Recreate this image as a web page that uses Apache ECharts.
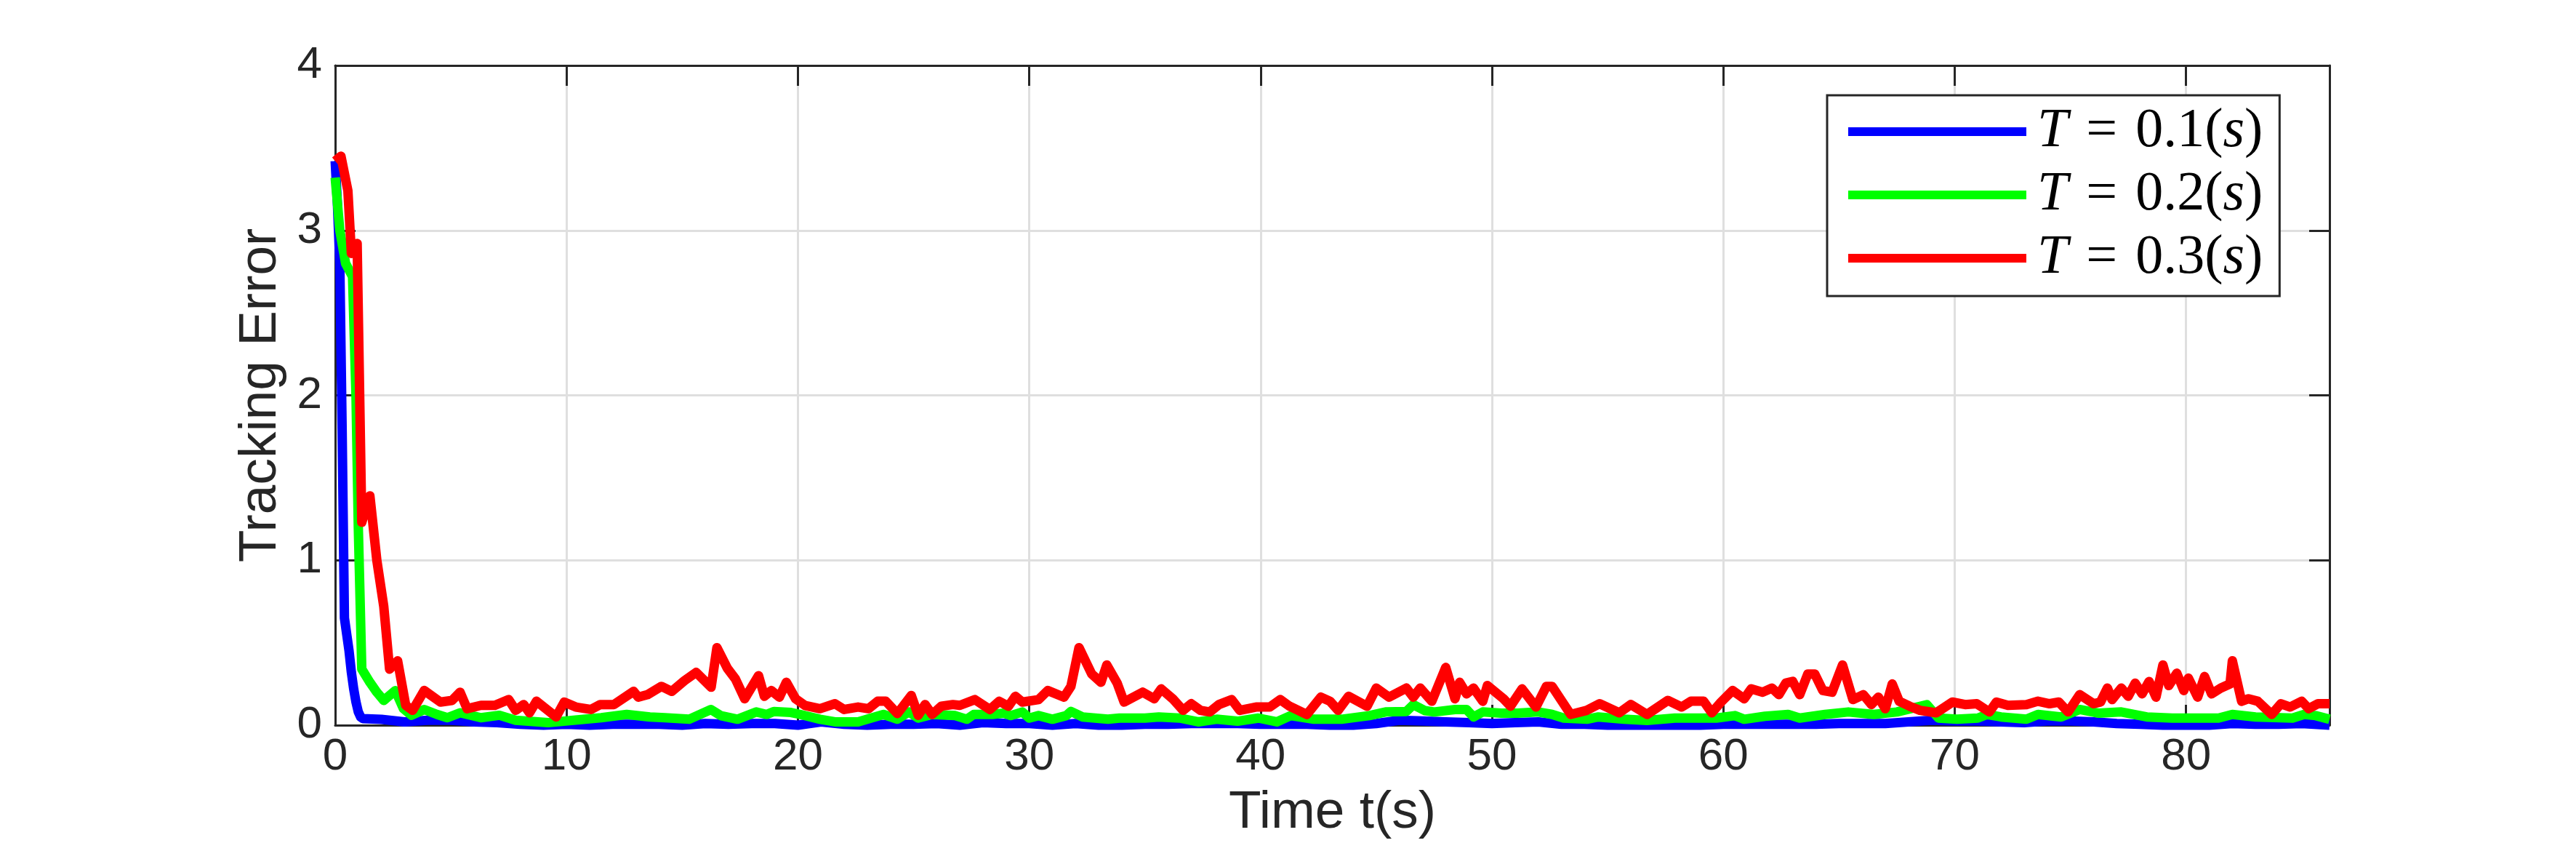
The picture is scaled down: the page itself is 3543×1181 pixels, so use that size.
<!DOCTYPE html>
<html>
<head>
<meta charset="utf-8">
<script src="https://cdn.jsdelivr.net/npm/echarts@6/dist/echarts.min.js"></script>
<style>
  html, body { margin: 0; padding: 0; background: #fff; }
  #chart { width: 3543px; height: 1181px; }
</style>
</head>
<body>
<div id="chart"></div>
<script>
// sampling periods shown in the legend
var periods = ['0.1', '0.2', '0.3']

// [time (s), tracking error]
var blueData = [
  [0, 3.42], [0.1, 3.15], [0.2, 2.8], [0.3, 1.8], [0.4, 0.65], [0.5, 0.55], [0.6, 0.45],
  [0.7, 0.32], [0.8, 0.22], [0.9, 0.14], [1.0, 0.08], [1.1, 0.05], [1.2, 0.04], [2, 0.035],
  [3, 0.02], [4, 0.03], [5, 0.03], [6, 0.02], [7, 0.015], [8, 0.005], [9, 0], [10, 0.005],
  [11, 0], [12, 0.005], [13, 0.005], [14, 0.005], [15, 0], [16, 0.01], [17, 0.005], [18, 0.01],
  [19, 0.01], [20, 0], [21, 0.02], [22, 0.005], [23, 0], [24, 0.005], [25, 0.005], [26, 0.01],
  [27, 0], [28, 0.015], [29, 0.01], [30, 0.01], [31, 0], [32, 0.01], [33, 0], [34, 0],
  [35, 0.005], [36, 0.005], [37, 0.01], [38, 0.01], [39, 0.01], [40, 0.005], [41, 0.005],
  [42, 0.005], [43, 0], [44, 0], [45, 0.01], [46, 0.03], [47, 0.025], [48, 0.02], [49, 0.015],
  [50, 0.01], [51, 0.015], [52, 0.02], [53, 0.005], [54, 0.005], [55, 0], [56, 0], [57, 0],
  [58, 0], [59, 0], [60, 0.005], [61, 0.005], [62, 0.005], [63, 0.005], [64, 0.005], [65, 0.01],
  [66, 0.01], [67, 0.01], [68, 0.02], [69, 0.03], [70, 0.025], [71, 0.025], [72, 0.02],
  [73, 0.015], [74, 0.025], [75, 0.025], [76, 0.02], [77, 0.01], [78, 0.005], [79, 0], [80, 0],
  [81, 0], [82, 0.01], [83, 0.005], [84, 0.005], [85, 0.01], [86.2, 0]
]

var greenData = [
  [0, 3.32], [0.2, 3.0], [0.45, 2.8], [0.75, 2.72], [0.9, 2.0], [1.0, 1.2], [1.15, 0.34],
  [1.5, 0.26], [1.8, 0.2], [2.1, 0.15], [2.6, 0.21], [2.95, 0.1], [3.3, 0.06], [3.85, 0.095],
  [4.4, 0.065], [4.85, 0.045], [5.4, 0.075], [6.3, 0.045], [7.1, 0.06], [7.8, 0.03], [9.2, 0.015],
  [10.3, 0.03], [11.5, 0.045], [12.6, 0.065], [13.6, 0.05], [14.25, 0.045], [15.3, 0.036],
  [16.24, 0.095], [16.66, 0.058], [17.39, 0.036], [18.2, 0.08], [18.65, 0.065], [18.96, 0.083],
  [19.7, 0.077], [20.1, 0.065], [20.95, 0.036], [21.6, 0.02], [22.6, 0.02], [23.7, 0.065],
  [24.3, 0.036], [24.8, 0.08], [25.2, 0.043], [25.8, 0.065], [26.8, 0.058], [27.3, 0.036],
  [27.6, 0.065], [28.4, 0.065], [28.9, 0.073], [29.2, 0.058], [29.7, 0.08], [30.0, 0.043],
  [30.4, 0.058], [31.0, 0.036], [31.6, 0.058], [31.8, 0.083], [32.3, 0.05], [33.4, 0.036],
  [33.9, 0.043], [35.0, 0.043], [35.6, 0.05], [36.5, 0.043], [37.3, 0.02], [38.1, 0.036],
  [39.0, 0.024], [39.9, 0.043], [40.7, 0.02], [41.3, 0.058], [42.3, 0.036], [43.5, 0.036],
  [44.7, 0.058], [45.4, 0.08], [46.3, 0.083], [46.6, 0.124], [47.1, 0.088], [47.5, 0.08],
  [48.4, 0.095], [48.9, 0.095], [49.2, 0.05], [49.6, 0.08], [50.4, 0.073], [51.1, 0.073],
  [52.0, 0.08], [52.6, 0.065], [53.1, 0.043], [54.1, 0.036], [54.6, 0.05], [55.7, 0.036],
  [56.7, 0.029], [57.9, 0.043], [59.7, 0.043], [60.5, 0.058], [60.9, 0.036], [61.8, 0.054],
  [62.8, 0.065], [63.3, 0.043], [64.4, 0.065], [65.4, 0.08], [66.5, 0.065], [67.5, 0.08],
  [68.8, 0.124], [69.3, 0.043], [70.1, 0.036], [71.0, 0.043], [71.4, 0.065], [72.0, 0.05],
  [73.1, 0.036], [73.6, 0.065], [74.6, 0.05], [75.4, 0.095], [76.2, 0.073], [77.2, 0.08],
  [78.3, 0.05], [79.4, 0.043], [81.4, 0.043], [82.0, 0.065], [83.0, 0.05], [84.6, 0.043],
  [85.1, 0.065], [85.6, 0.058], [86.2, 0.036]
]

var redData = [
  [0, 3.42], [0.25, 3.45], [0.55, 3.24], [0.7, 2.86], [0.95, 2.92], [1.15, 1.23], [1.5, 1.39],
  [1.8, 1.0], [2.1, 0.72], [2.35, 0.34], [2.7, 0.39], [3.05, 0.12], [3.35, 0.09], [3.85, 0.21],
  [4.55, 0.14], [5.05, 0.15], [5.4, 0.2], [5.7, 0.1], [6.3, 0.12], [6.9, 0.12], [7.5, 0.155],
  [7.8, 0.09], [8.15, 0.125], [8.4, 0.075], [8.7, 0.145], [9.55, 0.05], [9.9, 0.14], [10.4, 0.11],
  [11.05, 0.095], [11.45, 0.125], [12.05, 0.125], [12.9, 0.205], [13.1, 0.17], [13.5, 0.185],
  [14.1, 0.235], [14.55, 0.205], [15.1, 0.27], [15.6, 0.32], [16.25, 0.23], [16.5, 0.47],
  [16.95, 0.345], [17.3, 0.28], [17.7, 0.16], [18.3, 0.3], [18.55, 0.175], [18.85, 0.21],
  [19.2, 0.17], [19.5, 0.26], [19.9, 0.16], [20.3, 0.12], [20.95, 0.1], [21.6, 0.13], [22.0, 0.095],
  [22.6, 0.11], [23.05, 0.1], [23.45, 0.145], [23.8, 0.145], [24.3, 0.07], [24.9, 0.18],
  [25.2, 0.06], [25.5, 0.125], [25.8, 0.065], [26.2, 0.115], [26.7, 0.125], [27.0, 0.12],
  [27.65, 0.155], [28.3, 0.095], [28.7, 0.145], [29.1, 0.115], [29.4, 0.175], [29.7, 0.14],
  [30.4, 0.155], [30.8, 0.21], [31.5, 0.17], [31.8, 0.235], [32.15, 0.47], [32.7, 0.31],
  [33.1, 0.26], [33.35, 0.365], [33.8, 0.255], [34.1, 0.14], [34.9, 0.2], [35.4, 0.16],
  [35.7, 0.22], [36.2, 0.16], [36.65, 0.09], [37.0, 0.13], [37.4, 0.09], [37.8, 0.08],
  [38.2, 0.125], [38.75, 0.155], [39.1, 0.09], [39.8, 0.11], [40.4, 0.11], [40.85, 0.155],
  [41.25, 0.115], [42.0, 0.065], [42.6, 0.17], [43.0, 0.145], [43.35, 0.09], [43.8, 0.175],
  [44.6, 0.115], [45.0, 0.225], [45.55, 0.17], [46.3, 0.225], [46.6, 0.17], [46.9, 0.225],
  [47.4, 0.145], [48.0, 0.35], [48.4, 0.16], [48.6, 0.26], [48.9, 0.19], [49.2, 0.225],
  [49.6, 0.145], [49.8, 0.24], [50.5, 0.16], [50.8, 0.115], [51.3, 0.22], [51.9, 0.11],
  [52.35, 0.235], [52.6, 0.235], [53.4, 0.065], [54.1, 0.09], [54.65, 0.13], [55.5, 0.075],
  [56.0, 0.125], [56.7, 0.065], [57.6, 0.15], [58.2, 0.11], [58.6, 0.145], [59.15, 0.145],
  [59.5, 0.075], [59.9, 0.14], [60.4, 0.21], [60.9, 0.16], [61.2, 0.22], [61.7, 0.2],
  [62.1, 0.225], [62.4, 0.185], [62.7, 0.255], [63.0, 0.265], [63.3, 0.185], [63.65, 0.31],
  [63.95, 0.31], [64.3, 0.21], [64.7, 0.2], [65.15, 0.365], [65.6, 0.155], [66.05, 0.185],
  [66.4, 0.125], [66.7, 0.17], [67.0, 0.1], [67.3, 0.25], [67.6, 0.145], [68.05, 0.115],
  [68.5, 0.09], [69.2, 0.075], [69.9, 0.14], [70.45, 0.125], [70.95, 0.13], [71.5, 0.08],
  [71.8, 0.14], [72.3, 0.12], [73.1, 0.125], [73.6, 0.145], [74.1, 0.13], [74.5, 0.14],
  [74.9, 0.08], [75.4, 0.185], [76.0, 0.13], [76.3, 0.14], [76.6, 0.225], [76.8, 0.155],
  [77.2, 0.225], [77.5, 0.175], [77.8, 0.255], [78.1, 0.19], [78.4, 0.265], [78.7, 0.17],
  [79.0, 0.365], [79.25, 0.24], [79.6, 0.315], [79.9, 0.21], [80.1, 0.285], [80.5, 0.17],
  [80.8, 0.295], [81.1, 0.19], [81.5, 0.225], [81.9, 0.25], [82.0, 0.39], [82.4, 0.145],
  [82.7, 0.16], [83.1, 0.145], [83.7, 0.065], [84.1, 0.13], [84.5, 0.11], [85.0, 0.145],
  [85.3, 0.1], [85.7, 0.13], [86.2, 0.13]
]

var seriesNames = periods.map(function (p) { return 'T = ' + p + '(s)' })

var axisColor = '#262626'
var gridColor = '#dfdfdf'
var sans = 'Liberation Sans'
var serif = 'Liberation Serif'

function boxAxis (pos, show) {
  return {
    position: pos,
    axisLine: { show: true, onZero: false, lineStyle: { color: axisColor, width: 3 } },
    axisTick: { show: true, inside: true, length: 28, lineStyle: { color: axisColor, width: 3 } },
    axisLabel: { show: show },
    splitLine: { show: false }
  }
}

var xMain = Object.assign(boxAxis('bottom', true), {
  type: 'value', min: 0, max: 86.2, interval: 10,
  name: 'Time t(s)', nameLocation: 'middle', nameGap: 84,
  nameTextStyle: { fontFamily: sans, fontSize: 73, color: axisColor },
  axisLabel: { show: true, showMaxLabel: false, margin: 13, fontFamily: sans, fontSize: 62, color: axisColor },
  splitLine: { show: true, lineStyle: { color: gridColor, width: 3 } }
})
var xTop = Object.assign(boxAxis('top', false), { type: 'value', min: 0, max: 86.2, interval: 10 })

var yMain = Object.assign(boxAxis('left', true), {
  type: 'value', min: 0, max: 4, interval: 1,
  name: 'Tracking Error', nameLocation: 'middle', nameGap: 66,
  nameTextStyle: { fontFamily: sans, fontSize: 73, color: axisColor },
  axisLabel: { show: true, margin: 18, fontFamily: sans, fontSize: 62, color: axisColor },
  splitLine: { show: true, lineStyle: { color: gridColor, width: 3 } }
})
var yRight = Object.assign(boxAxis('right', false), { type: 'value', min: 0, max: 4, interval: 1 })

function lineSeries (name, color, data) {
  return {
    name: name,
    type: 'line',
    data: data,
    showSymbol: false,
    clip: false,
    color: color,
    lineStyle: { color: color, width: 13, join: 'round' }
  }
}

var legendFont = { fontFamily: serif, fontSize: 76, color: '#000' }

var option = {
  backgroundColor: '#fff',
  animation: false,
  grid: { left: 461, right: 339, top: 90, bottom: 184 },
  xAxis: [xMain, xTop],
  yAxis: [yMain, yRight],
  legend: {
    left: 2513,
    top: 131,
    orient: 'vertical',
    icon: 'rect',
    itemWidth: 245,
    itemHeight: 12,
    itemGap: 11,
    padding: [12, 23, 14, 29],
    backgroundColor: '#fff',
    borderColor: axisColor,
    borderWidth: 3,
    borderRadius: 0,
    textStyle: {
      fontFamily: serif,
      fontSize: 76,
      color: '#000',
      padding: [0, 0, 0, 10],
      rich: {
        it: Object.assign({ fontStyle: 'italic' }, legendFont),
        rm: Object.assign({}, legendFont),
        eq: Object.assign({ padding: [0, 25, 0, 25] }, legendFont)
      }
    },
    formatter: function (name) {
      var p = name.match(/[\d.]+/)[0]
      return '{it|T}{eq|=}{rm|' + p + '(}{it|s}{rm|)}'
    },
    data: seriesNames
  },
  series: [
    lineSeries(seriesNames[0], '#0000ff', blueData),
    lineSeries(seriesNames[1], '#00ff00', greenData),
    lineSeries(seriesNames[2], '#ff0000', redData)
  ]
}

var chart = echarts.init(document.getElementById('chart'))
chart.setOption(option)
</script>
</body>
</html>
